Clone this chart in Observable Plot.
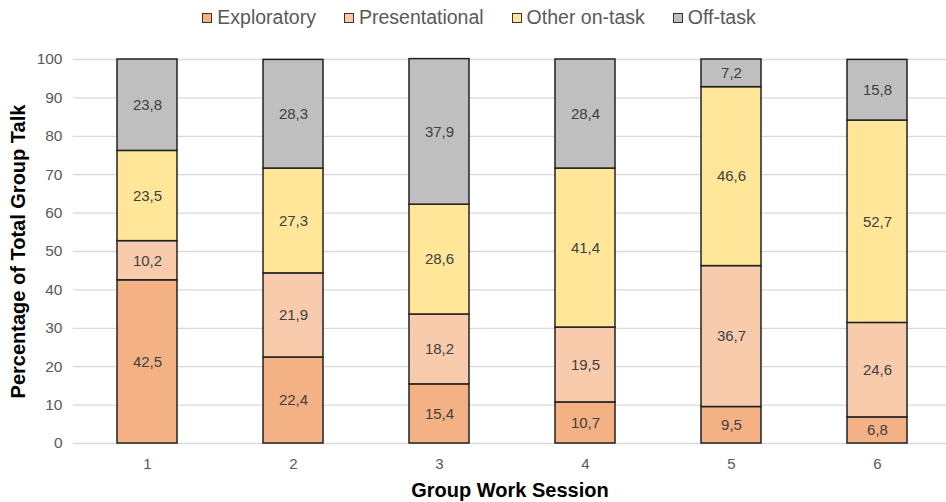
<!DOCTYPE html>
<html>
<head>
<meta charset="utf-8">
<script src="https://cdn.jsdelivr.net/npm/d3@7"></script>
<script src="https://cdn.jsdelivr.net/npm/@observablehq/plot@0.6"></script>
<style>
  body { margin: 0; background: #fff; font-family: "Liberation Sans", Arial, sans-serif; }
  #legend { height: 35px; display: flex; justify-content: center; align-items: center; gap: 28px; font-size: 19.5px; color: #595959; padding-left: 12px; box-sizing: border-box; }
  #legend .item { display: flex; align-items: center; gap: 5px; }
  #legend .sw { width: 8px; height: 8px; border: 1.5px solid #333; display: inline-block; }
  svg { display: block; }
</style>
</head>
<body>
<div id="legend"></div>
<div id="chart"></div>
<script>
const sessions = ["1", "2", "3", "4", "5", "6"];
const categories = ["Exploratory", "Presentational", "Other on-task", "Off-task"];
const colors = ["#F4B183", "#F8CBAD", "#FFE699", "#BFBFBF"];
const exploratory = [42.5, 22.4, 15.4, 10.7, 9.5, 6.8];
const presentational = [10.2, 21.9, 18.2, 19.5, 36.7, 24.6];
const otherOnTask = [23.5, 27.3, 28.6, 41.4, 46.6, 52.7];
const offTask = [23.8, 28.3, 37.9, 28.4, 7.2, 15.8];
const yTicks = [0, 10, 20, 30, 40, 50, 60, 70, 80, 90, 100];

const series = [exploratory, presentational, otherOnTask, offTask];
const data = [];
categories.forEach((c, ci) => {
  sessions.forEach((s, si) => data.push({session: s, category: c, value: series[ci][si]}));
});

// legend
const leg = document.getElementById("legend");
categories.forEach((c, i) => {
  const it = document.createElement("div");
  it.className = "item";
  const sw = document.createElement("span");
  sw.className = "sw";
  sw.style.background = colors[i];
  const t = document.createElement("span");
  t.textContent = c;
  it.appendChild(sw); it.appendChild(t);
  leg.appendChild(it);
});

const fmt = v => String(v.toFixed(1)).replace(".", ",");

const chart = Plot.plot({
  width: 946,
  height: 467,
  marginTop: 24,
  marginBottom: 59,
  marginLeft: 73,
  marginRight: 0,
  style: { fontFamily: "Liberation Sans, Arial, sans-serif", fontSize: "15px", color: "#595959", background: "#fff" },
  x: { domain: sessions, range: [73, 951], paddingInner: 0.59, paddingOuter: 0.295, label: null },
  y: { domain: [0, 100], ticks: yTicks, label: null },
  color: { domain: categories, range: colors },
  marks: [
    Plot.gridY(yTicks, { stroke: "#d9d9d9", strokeOpacity: 1, strokeWidth: 1.3 }),
    Plot.barY(data, Plot.stackY({ x: "session", y: "value", fill: "category", stroke: "#222", strokeWidth: 1.5, order: null })),
    Plot.text(data, Plot.stackY({ x: "session", y: "value", text: d => fmt(d.value), fill: "#404040", fontSize: 15, order: null })),
    Plot.axisX({ tickSize: 0, tickPadding: 15, fontSize: 15, fill: "#595959", label: null }),
    Plot.axisY({ ticks: yTicks, tickSize: 0, tickPadding: 11, fontSize: 15.5, fill: "#595959", label: null }),
    Plot.text(["Group Work Session"], { frameAnchor: "bottom", lineAnchor: "middle", textAnchor: "middle", dy: 47, dx: 0, text: d => d, fontWeight: "bold", fontSize: 20, fill: "#000" }),
    Plot.text(["Percentage of Total Group Talk"], { frameAnchor: "left", lineAnchor: "middle", textAnchor: "middle", dx: -55, rotate: -90, text: d => d, fontWeight: "bold", fontSize: 20, fill: "#000" })
  ]
});
document.getElementById("chart").appendChild(chart);
</script>
</body>
</html>
